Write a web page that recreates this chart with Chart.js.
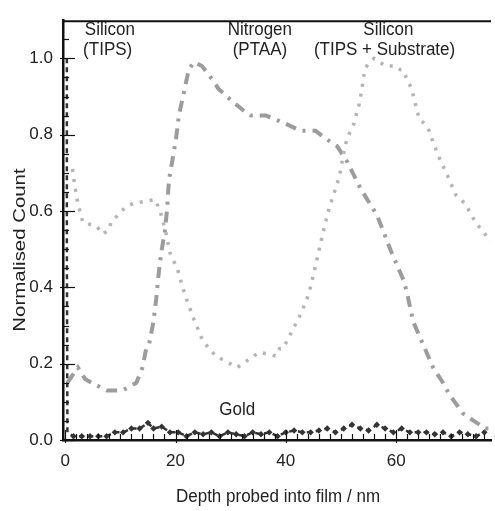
<!DOCTYPE html>
<html>
<head>
<meta charset="utf-8">
<script src="https://cdn.jsdelivr.net/npm/chart.js@4/dist/chart.umd.min.js"></script>
<style>
    html, body { margin: 0; padding: 0; background: #fff; }
    #wrap { width: 495px; height: 511px; position: relative; }
</style>
</head>
<body>
<div id="wrap"><canvas id="depth-chart"></canvas></div>
<script>
(function () {
    'use strict';

    // =========================================================================
    // Data
    // =========================================================================

    var siliconX = [1.3, 1.8, 2.3, 3.2, 5.7, 6.8, 7.9, 8.3, 10.9, 12.4, 16.3, 17.2, 17.6, 18.3, 19.0,
        20.3, 21.3, 22.2, 23.5, 24.4, 24.9, 27.3, 31.2, 35.2, 38.2, 38.9, 39.5, 41.3, 42.7, 44.1,
        44.8, 45.6, 47.0, 47.9, 48.6, 49.7, 50.6, 51.1, 52.4, 52.9, 53.3, 53.8, 54.3, 54.7, 55.2,
        56.0, 57.0, 58.1, 59.9, 60.8, 61.2, 62.8, 63.5, 64.2, 65.1, 66.0, 66.7, 67.8, 69.4, 70.9,
        72.5, 74.4, 76.1, 77.1];
    var siliconY = [0.71, 0.66, 0.62, 0.57, 0.56, 0.54, 0.55, 0.57, 0.61, 0.62, 0.63, 0.60, 0.58, 0.54, 0.49,
        0.45, 0.40, 0.36, 0.31, 0.28, 0.26, 0.22, 0.19, 0.23, 0.22, 0.24, 0.24, 0.29, 0.33, 0.38,
        0.42, 0.47, 0.56, 0.61, 0.64, 0.69, 0.76, 0.79, 0.83, 0.86, 0.88, 0.92, 0.97, 0.98, 0.99,
        1.00, 0.99, 0.98, 0.98, 0.97, 0.97, 0.92, 0.88, 0.84, 0.83, 0.81, 0.78, 0.74, 0.69, 0.64,
        0.62, 0.57, 0.54, 0.52];

    var nitrogenX = [0.4, 2.3, 3.6, 4.8, 7.5, 10.4, 12.9, 14.0, 14.7, 15.2, 16.0, 16.5, 16.9, 17.4, 18.1,
        18.5, 18.8, 19.4, 20.1, 20.6, 21.5, 22.4, 23.3, 24.8, 26.9, 27.8, 30.1, 32.6, 33.7, 36.4,
        39.8, 42.7, 45.4, 47.2, 49.3, 51.1, 53.5, 55.2, 56.5, 57.6, 59.2, 61.3, 61.9, 63.1, 64.6,
        66.7, 68.5, 69.6, 72.1, 74.1, 76.2, 77.1];
    var nitrogenY = [0.15, 0.19, 0.16, 0.15, 0.13, 0.13, 0.15, 0.19, 0.24, 0.25, 0.31, 0.37, 0.43, 0.49, 0.55,
        0.61, 0.68, 0.73, 0.79, 0.85, 0.91, 0.97, 0.99, 0.98, 0.94, 0.92, 0.89, 0.86, 0.85, 0.85,
        0.83, 0.81, 0.81, 0.79, 0.77, 0.73, 0.66, 0.62, 0.59, 0.55, 0.49, 0.42, 0.39, 0.31, 0.26,
        0.19, 0.15, 0.12, 0.07, 0.05, 0.03, 0.03];

    var goldX = [0.3, 0.3, 0.4, 1.5, 3.0, 4.5, 6.0, 7.5, 9.0, 10.5, 12.0, 13.5, 15.0, 16.0, 17.5,
        19.0, 20.5, 22.0, 23.5, 25.0, 26.5, 28.0, 29.5, 31.0, 32.5, 34.0, 35.5, 37.0, 38.5, 40.0,
        41.5, 43.0, 44.5, 46.0, 47.5, 49.0, 50.5, 52.0, 53.5, 55.0, 56.5, 58.0, 59.5, 61.0, 62.5,
        64.0, 65.5, 67.0, 68.5, 70.0, 71.5, 73.0, 74.5, 76.0];
    var goldY = [1.0, 0.5, 0.02, 0.01, 0.01, 0.01, 0.01, 0.01, 0.02, 0.02, 0.03, 0.03, 0.045, 0.03, 0.035,
        0.02, 0.02, 0.01, 0.02, 0.015, 0.02, 0.01, 0.02, 0.015, 0.01, 0.02, 0.015, 0.02, 0.01, 0.02,
        0.025, 0.02, 0.02, 0.025, 0.03, 0.02, 0.03, 0.04, 0.03, 0.025, 0.04, 0.03, 0.02, 0.03, 0.02,
        0.02, 0.02, 0.015, 0.02, 0.01, 0.02, 0.015, 0.01, 0.02];

    var xTicks = [0, 20, 40, 60];
    var yTicks = [0, 0.2, 0.4, 0.6, 0.8, 1.0];

    // in-plot labels, placed in data units
    var labelLines = [
        ['Silicon', 8.1, 1.074], ['(TIPS)', 7.7, 1.022],
        ['Nitrogen', 35.3, 1.074], ['(PTAA)', 35.3, 1.022],
        ['Silicon', 58.6, 1.074], ['(TIPS + Substrate)', 57.9, 1.022],
        ['Gold', 31.2, 0.078]
    ];

    function toPoints(xs, ys) {
        return xs.map(function (x, i) { return { x: x, y: ys[i] }; });
    }

    // the source figure is stretched a little vertically, so text is too
    function stretchedText(ctx, text, x, y, rotated) {
        ctx.save();
        ctx.translate(x, y);
        if (rotated) {
            ctx.rotate(-Math.PI / 2);
            ctx.scale(1.2, 1);
        } else {
            ctx.scale(1, 1.1);
        }
        ctx.fillText(text, 0, 0);
        ctx.restore();
    }

    // =========================================================================
    // Frame plugin: inner ticks, top border, labels, axis titles
    // =========================================================================

    var framePlugin = {
        id: 'frame',
        afterDatasetsDraw: function (chart) {
            var ctx = chart.ctx;
            var area = chart.chartArea;
            var xs = chart.scales.x;
            var ys = chart.scales.y;
            var v, p;

            ctx.save();
            ctx.strokeStyle = '#111';

            // top border
            ctx.lineWidth = 2;
            ctx.beginPath();
            ctx.moveTo(area.left, area.top + 1);
            ctx.lineTo(area.right, area.top + 1);
            ctx.stroke();

            // y ticks (inside)
            ctx.lineWidth = 1.2;
            for (v = 0; v <= 1.1; v += 0.05) {
                p = Math.round(ys.getPixelForValue(v)) + 0.5;
                var major = Math.abs(v / 0.2 - Math.round(v / 0.2)) < 0.01;
                ctx.beginPath();
                ctx.moveTo(area.left - (major ? 3 : 0), p);
                ctx.lineTo(area.left + (major ? 12 : 6), p);
                ctx.stroke();
            }

            // x ticks (inside)
            for (v = 0; v <= 78; v += 2) {
                p = Math.round(xs.getPixelForValue(v)) + 0.5;
                var big = v % 20 === 0;
                ctx.beginPath();
                ctx.moveTo(p, area.bottom + (big ? 3 : 0));
                ctx.lineTo(p, area.bottom - (big ? 10 : 6));
                ctx.stroke();
            }

            // in-plot labels
            ctx.fillStyle = '#222';
            ctx.font = '17px "Liberation Sans", Arial, sans-serif';
            ctx.textAlign = 'center';
            ctx.textBaseline = 'middle';
            labelLines.forEach(function (l) {
                stretchedText(ctx, l[0], xs.getPixelForValue(l[1]), ys.getPixelForValue(l[2]), false);
            });

            // axis titles
            stretchedText(ctx, 'Depth probed into film / nm', 278, 497, false);
            stretchedText(ctx, 'Normalised Count', 20, 250, true);
            ctx.restore();
        }
    };

    // =========================================================================
    // Chart
    // =========================================================================

    var tickFont = { family: '"Liberation Sans", Arial, sans-serif', size: 17 };

    new Chart(document.getElementById('depth-chart'), {
        type: 'line',
        data: {
            datasets: [{
                label: 'Silicon',
                data: toPoints(siliconX, siliconY),
                borderColor: '#b4b4b4',
                borderWidth: 3.5,
                borderDash: [3, 7],
                pointRadius: 0,
                fill: false,
                tension: 0
            }, {
                label: 'Nitrogen',
                data: toPoints(nitrogenX, nitrogenY),
                borderColor: '#9c9c9c',
                borderWidth: 4,
                borderDash: [11, 7, 3, 7],
                pointRadius: 0,
                fill: false,
                tension: 0
            }, {
                label: 'Gold',
                data: toPoints(goldX, goldY),
                borderColor: '#333',
                backgroundColor: '#333',
                borderWidth: 2.5,
                borderDash: [5, 4],
                pointStyle: 'rectRot',
                pointRadius: goldX.map(function (x, i) { return i < 3 ? 0 : 3.2; }),
                pointBorderWidth: 0,
                fill: false,
                tension: 0
            }]
        },
        options: {
            responsive: true,
            maintainAspectRatio: false,
            animation: false,
            events: [],
            layout: { padding: { top: 15, right: 0, bottom: 0, left: 0 } },
            plugins: {
                legend: { display: false },
                tooltip: { enabled: false }
            },
            scales: {
                x: {
                    type: 'linear',
                    min: -0.4,
                    max: 77.2,
                    afterBuildTicks: function (scale) {
                        scale.ticks = xTicks.map(function (v) { return { value: v }; });
                    },
                    afterFit: function (scale) { scale.height = 71; },
                    grid: { display: false, drawTicks: false },
                    border: { display: true, color: '#111', width: 2.5 },
                    ticks: {
                        color: '#222',
                        font: tickFont,
                        padding: 11,
                        maxRotation: 0,
                        callback: function (v) { return String(v); }
                    }
                },
                y: {
                    type: 'linear',
                    min: 0,
                    max: 1.1,
                    afterBuildTicks: function (scale) {
                        scale.ticks = yTicks.map(function (v) { return { value: v }; });
                    },
                    afterFit: function (scale) { scale.width = 63; },
                    grid: { display: false, drawTicks: false },
                    border: { display: true, color: '#111', width: 2.5 },
                    ticks: {
                        color: '#222',
                        font: tickFont,
                        padding: 10,
                        callback: function (v) { return Number(v).toFixed(1); }
                    }
                }
            }
        },
        plugins: [framePlugin]
    });

})();
</script>
</body>
</html>
